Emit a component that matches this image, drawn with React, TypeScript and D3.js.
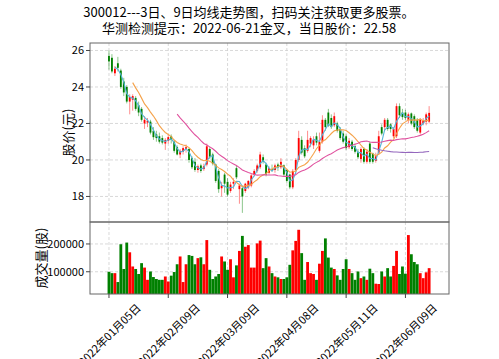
import React from 'react';
import * as d3 from 'd3';

const dates = [
  '2022-01-05','2022-01-06','2022-01-07','2022-01-10','2022-01-11','2022-01-12','2022-01-13','2022-01-14','2022-01-17','2022-01-18',
  '2022-01-19','2022-01-20','2022-01-21','2022-01-24','2022-01-25','2022-01-26','2022-01-27','2022-01-28','2022-02-07','2022-02-08',
  '2022-02-09','2022-02-10','2022-02-11','2022-02-14','2022-02-15','2022-02-16','2022-02-17','2022-02-18','2022-02-21','2022-02-22',
  '2022-02-23','2022-02-24','2022-02-25','2022-02-28','2022-03-01','2022-03-02','2022-03-03','2022-03-04','2022-03-07','2022-03-08',
  '2022-03-09','2022-03-10','2022-03-11','2022-03-14','2022-03-15','2022-03-16','2022-03-17','2022-03-18','2022-03-21','2022-03-22',
  '2022-03-23','2022-03-24','2022-03-25','2022-03-28','2022-03-29','2022-03-30','2022-03-31','2022-04-01','2022-04-06','2022-04-07',
  '2022-04-08','2022-04-11','2022-04-12','2022-04-13','2022-04-14','2022-04-15','2022-04-18','2022-04-19','2022-04-20','2022-04-21',
  '2022-04-22','2022-04-25','2022-04-26','2022-04-27','2022-04-28','2022-04-29','2022-05-05','2022-05-06','2022-05-09','2022-05-10',
  '2022-05-11','2022-05-12','2022-05-13','2022-05-16','2022-05-17','2022-05-18','2022-05-19','2022-05-20','2022-05-23','2022-05-24',
  '2022-05-25','2022-05-26','2022-05-27','2022-05-30','2022-05-31','2022-06-01','2022-06-02','2022-06-06','2022-06-07','2022-06-08',
  '2022-06-09','2022-06-10','2022-06-13','2022-06-14','2022-06-15','2022-06-16','2022-06-17','2022-06-20','2022-06-21',
];

const opens = [
  25.7,25.6,24.75,25.3,24.9,24.3,24.0,23.2,23.3,23.4,
  23.0,22.8,22.0,22.05,22.1,21.6,21.4,21.3,21.2,20.9,
  21.05,21.3,21.0,20.7,20.3,20.45,20.6,20.6,20.1,19.9,
  19.45,19.7,19.5,19.75,20.6,20.3,19.75,19.4,18.45,19.2,
  18.8,18.3,18.7,19.55,18.4,18.45,18.3,18.5,18.6,19.2,
  19.4,19.6,20.15,19.75,19.3,19.5,19.45,19.75,19.6,19.7,
  19.45,19.2,18.5,19.45,20.0,21.1,20.65,20.5,20.9,20.8,
  21.3,20.5,21.0,22.2,22.6,22.3,21.9,22.0,21.7,21.45,
  21.3,20.7,21.0,20.75,20.45,20.05,20.6,19.9,20.9,20.35,
  19.95,20.4,21.8,21.8,22.2,21.95,21.3,21.3,22.95,22.6,
  22.6,22.2,22.55,22.4,22.2,21.5,22.0,22.1,22.1,
];
const highs = [
  26.0,25.8,25.15,25.65,25.0,24.5,24.1,23.6,23.6,23.5,
  23.2,22.9,22.4,22.3,22.2,21.8,21.6,21.5,21.35,21.2,
  21.35,21.4,21.1,20.8,20.6,20.75,20.85,20.65,20.2,20.1,
  19.75,19.8,19.8,20.9,20.7,20.4,19.8,19.5,18.8,19.3,
  19.0,18.8,19.0,19.7,18.7,18.6,18.75,18.9,19.25,19.5,
  19.8,20.45,20.3,19.85,19.65,19.75,19.8,19.85,20.1,19.75,
  19.5,19.25,19.5,20.1,21.6,21.3,20.8,21.6,21.3,21.3,
  21.5,21.5,22.45,22.3,22.8,22.5,22.6,22.1,21.8,21.6,
  21.4,21.2,21.1,20.9,20.6,20.7,20.7,20.6,21.0,20.4,
  20.4,21.6,21.95,22.3,22.3,22.0,21.8,23.1,23.1,22.8,
  22.75,22.6,22.6,22.5,22.3,22.3,22.3,22.6,22.95,
];
const lows = [
  24.95,24.75,24.6,24.85,23.9,23.5,23.1,22.5,22.7,22.7,
  22.4,22.1,21.7,21.8,21.4,21.1,21.0,20.9,20.85,20.55,
  20.9,20.9,20.4,20.25,20.1,20.3,20.4,19.85,19.5,19.35,
  19.3,19.3,19.4,19.65,20.05,19.7,18.75,18.2,18.0,18.2,
  18.0,18.2,18.4,18.95,17.6,17.1,18.2,18.4,18.5,19.1,
  19.3,19.5,19.8,19.1,19.2,19.35,19.3,19.4,19.5,19.1,
  18.75,18.4,18.4,19.35,19.9,20.3,20.1,20.4,20.7,20.6,
  20.8,20.4,20.9,21.6,21.8,21.7,21.8,21.5,21.1,20.9,
  20.55,20.6,20.5,20.35,20.05,19.85,19.8,19.8,19.8,19.8,
  19.85,20.3,21.35,21.6,21.6,21.5,21.2,21.2,22.3,22.2,
  22.2,22.0,21.9,21.7,21.5,21.4,21.9,21.9,22.0,
];
const closes = [
  25.4,24.85,25.0,25.05,24.0,23.7,23.2,23.45,23.5,22.8,
  22.6,22.2,22.2,22.15,21.5,21.25,21.2,21.0,20.95,21.1,
  21.25,21.1,20.5,20.3,20.5,20.65,20.7,20.0,19.6,19.45,
  19.65,19.4,19.65,20.75,20.15,19.8,18.85,18.4,18.6,18.7,
  18.1,18.65,18.8,19.05,18.6,18.0,18.7,18.85,19.15,19.4,
  19.7,20.3,19.9,19.2,19.55,19.45,19.7,19.6,19.9,19.2,
  18.85,18.5,19.4,20.0,21.2,20.4,20.2,21.1,21.2,21.1,
  20.95,21.0,22.2,21.8,21.9,21.8,22.4,21.6,21.2,21.0,
  20.65,21.05,20.6,20.45,20.15,20.6,19.9,20.45,19.9,19.9,
  20.2,21.3,21.45,22.2,21.7,21.7,21.7,22.95,22.45,22.35,
  22.3,22.5,22.0,21.8,21.6,22.2,22.15,22.5,22.58,
];
const volumes = [
  100000,95000,95000,63000,199000,110000,205000,170000,119000,110000,
  92000,131000,115000,71000,101000,81000,74000,71000,71000,83000,
  65000,86000,99000,127000,155000,63000,127000,160000,157000,127000,
  149000,152000,127000,214000,107000,74000,83000,92000,155000,137000,
  107000,145000,80000,123000,175000,229000,190000,196000,115000,115000,
  202000,212000,113000,149000,119000,95000,83000,80000,74000,74000,
  80000,125000,177000,211000,251000,167000,71000,135000,95000,92000,
  71000,129000,175000,220000,151000,115000,110000,87000,71000,110000,
  145000,110000,95000,71000,101000,77000,83000,71000,111000,95000,
  57000,56000,101000,83000,113000,83000,121000,175000,92000,119000,
  93000,232000,163000,135000,127000,95000,77000,98000,113000,
];

const maWindows = [3, 9, 24, 90];
const maColors = ['#55b4d8', '#f5a24a', '#e0529f', '#9467bd'];
const priceTicks = [18, 20, 22, 24, 26];
const volumeTicks = [100000, 200000];
const xTickIdx = [0, 20, 40, 60, 80, 100];

const title1 = '300012---3日、9日均线走势图，扫码关注获取更多股票。';
const title2 = '华测检测提示：2022-06-21金叉，当日股价：22.58';

const W = 499, H = 359;
const PL = 90, PR = 449, PT = 43, PB = 222, VB = 294;
const UP = '#ff0000', DOWN = '#008000';
const CJK = '"Noto Sans CJK SC", "Noto Sans", sans-serif';

function fmtDate(s: string) {
  const [y, m, d] = s.split('-');
  return `${y}年${m}月${d}日`;
}

export default function App() {
  const n = closes.length;
  const x = d3.scaleLinear().domain([-6.4, 114.7]).range([PL, PR]);
  const yP = d3.scaleLinear().domain([16.6, 26.41]).range([PB, PT]);
  const yV = d3.scaleLinear().domain([20000, 279000]).range([VB, PB]);
  const step = x(1) - x(0);
  const bodyW = step * 0.62;
  const barW = step * 0.95;

  const mas = maWindows.map((w) =>
    closes.map((c, i) => (i < w - 1 ? null : (d3.mean(closes.slice(i - w + 1, i + 1)) as number)))
  );
  const line = d3
    .line<number | null>()
    .defined((d) => d != null)
    .x((_, i) => x(i))
    .y((d) => yP(d as number));

  const idx = d3.range(n);

  return (
    <svg width={W} height={H} style={{ position: 'absolute', left: 0, top: 0, background: '#fff' }} fontFamily={CJK}>
      <defs>
        <clipPath id="cp"><rect x={PL} y={PT} width={PR - PL} height={PB - PT} /></clipPath>
        <clipPath id="cv"><rect x={PL} y={PB} width={PR - PL} height={VB - PB} /></clipPath>
      </defs>
      <rect x={0} y={0} width={W} height={H} fill="#fff" />
      <text x={249} y={17} textAnchor="middle" fontSize={13} fill="#000">{title1}</text>
      <text x={249} y={33} textAnchor="middle" fontSize={13} fill="#000">{title2}</text>

      {/* grids */}
      <g stroke="#cfcfcf" strokeDasharray="3,2" strokeWidth={0.8}>
        {priceTicks.map((t) => (
          <line key={'pg' + t} x1={PL} x2={PR} y1={yP(t)} y2={yP(t)} />
        ))}
        {volumeTicks.map((t) => (
          <line key={'vg' + t} x1={PL} x2={PR} y1={yV(t)} y2={yV(t)} />
        ))}
        {xTickIdx.map((i) => (
          <g key={'xg' + i}>
            <line x1={x(i)} x2={x(i)} y1={PT} y2={PB} />
            <line x1={x(i)} x2={x(i)} y1={PB} y2={VB} />
          </g>
        ))}
      </g>

      {/* candles */}
      <g clipPath="url(#cp)">
        {idx.map((i) => {
          const up = closes[i] >= opens[i];
          const col = up ? UP : DOWN;
          const top = yP(Math.max(opens[i], closes[i]));
          const bot = yP(Math.min(opens[i], closes[i]));
          return (
            <g key={'c' + i}>
              <line x1={x(i)} x2={x(i)} y1={yP(highs[i])} y2={yP(lows[i])} stroke={col} strokeOpacity={0.45} strokeWidth={1} />
              <rect x={x(i) - bodyW / 2} y={top} width={bodyW} height={Math.max(bot - top, 0.8)} fill={col} />
            </g>
          );
        })}
        {mas.map((m, k) => (
          <path key={'ma' + k} d={line(m) || ''} fill="none" stroke={maColors[k]} strokeWidth={1.1} />
        ))}
      </g>

      {/* volume */}
      <g clipPath="url(#cv)">
        {idx.map((i) => {
          const up = closes[i] >= opens[i];
          return (
            <rect key={'v' + i} x={x(i) - barW / 2} y={yV(volumes[i])} width={barW} height={VB - yV(volumes[i]) + 2} fill={up ? UP : DOWN} />
          );
        })}
      </g>

      {/* frames */}
      <rect x={PL} y={PT} width={PR - PL} height={PB - PT} fill="none" stroke="#666" strokeWidth={1} />
      <rect x={PL} y={PB} width={PR - PL} height={VB - PB} fill="none" stroke="#666" strokeWidth={1} />

      {/* y ticks price */}
      {priceTicks.map((t) => (
        <g key={'pt' + t}>
          <line x1={PL - 4} x2={PL} y1={yP(t)} y2={yP(t)} stroke="#444" />
          <text x={PL - 6} y={yP(t)} dy="0.35em" textAnchor="end" fontSize={11} fill="#000">{t}</text>
        </g>
      ))}
      {volumeTicks.map((t) => (
        <g key={'vt' + t}>
          <line x1={PL - 4} x2={PL} y1={yV(t)} y2={yV(t)} stroke="#444" />
          <text x={PL - 6} y={yV(t)} dy="0.35em" textAnchor="end" fontSize={11} fill="#000">{t}</text>
        </g>
      ))}

      {/* x ticks */}
      {xTickIdx.map((i) => (
        <g key={'xt' + i}>
          <line x1={x(i)} x2={x(i)} y1={VB} y2={VB + 4} stroke="#444" />
          <text
            transform={`translate(${x(i)},${VB + 40}) rotate(-45)`}
            textAnchor="middle"
            dominantBaseline="central"
            fontSize={11}
            fill="#000"
          >
            {fmtDate(dates[i])}
          </text>
        </g>
      ))}

      {/* axis labels */}
      <text transform={`translate(73,${(PT + PB) / 2}) rotate(-90)`} textAnchor="middle" fontSize={13} fill="#000">股价(元)</text>
      <text transform={`translate(46,${(PB + VB) / 2}) rotate(-90)`} textAnchor="middle" fontSize={13} fill="#000">成交量(股)</text>
    </svg>
  );
}
